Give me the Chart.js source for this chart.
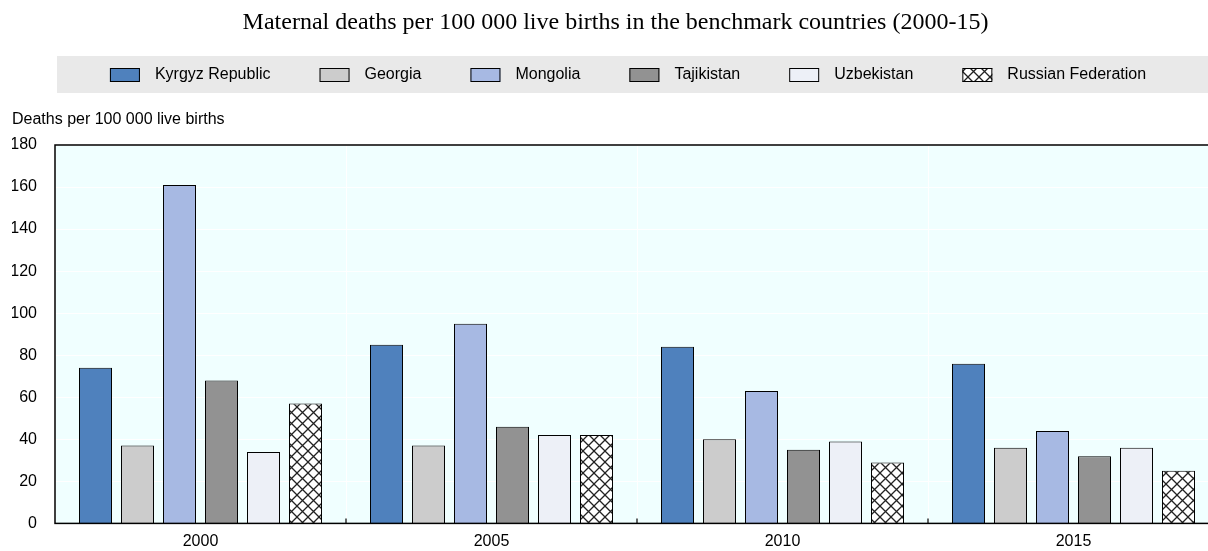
<!DOCTYPE html>
<html>
<head>
<meta charset="utf-8">
<script src="https://cdn.jsdelivr.net/npm/chart.js@4.4.0/dist/chart.umd.min.js"></script>
<style>
html, body { margin: 0; padding: 0; background: #fff; overflow: hidden; }
#wrap { width: 1208px; height: 551px; overflow: hidden; }
</style>
</head>
<body>
<div id="wrap"><canvas id="chart" width="1219" height="551"></canvas></div>
<script>
// data
const years = ['2000', '2005', '2010', '2015'];
const kyrgyz = [74, 85, 84, 76];
const georgia = [37, 37, 40, 36];
const mongolia = [161, 95, 63, 44];
const tajikistan = [68, 46, 35, 32];
const uzbekistan = [34, 42, 39, 36];
const russia = [57, 42, 29, 25];
const countryNames = ['Kyrgyz Republic', 'Georgia', 'Mongolia', 'Tajikistan', 'Uzbekistan', 'Russian Federation'];
const yMin = 0, yMax = 180, yStep = 20;

// crosshatch fill for Russia
function hatch() {
    const c = document.createElement('canvas');
    c.width = 11; c.height = 11;
    const g = c.getContext('2d');
    g.fillStyle = '#fff';
    g.fillRect(0, 0, 11, 11);
    g.strokeStyle = '#222';
    g.lineWidth = 1.3;
    g.beginPath();
    g.moveTo(0, 0); g.lineTo(11, 11);
    g.moveTo(11, 0); g.lineTo(0, 11);
    g.stroke();
    return g.createPattern(c, 'repeat');
}
const hatchFill = hatch();

const fills = ['#4F81BD', '#CCCCCC', '#A7B9E3', '#929292', '#EDF0F7', hatchFill];
const series = [kyrgyz, georgia, mongolia, tajikistan, uzbekistan, russia];

Chart.defaults.font.family = '"Liberation Sans", Arial, sans-serif';
Chart.defaults.color = '#000';

// plot background
const plotBg = {
    id: 'plotBg',
    beforeDraw(chart) {
        const a = chart.chartArea, ctx = chart.ctx;
        ctx.save();
        ctx.fillStyle = '#F0FFFF';
        ctx.fillRect(a.left, a.top, a.right - a.left, a.bottom - a.top);
        ctx.restore();
    }
};

// frame + small inner ticks between year groups
const frame = {
    id: 'frame',
    afterDatasetsDraw(chart) {
        const a = chart.chartArea, ctx = chart.ctx, xs = chart.scales.x;
        ctx.save();
        ctx.strokeStyle = '#000';
        ctx.lineWidth = 1.5;
        ctx.strokeRect(a.left, a.top, a.right - a.left, a.bottom - a.top);
        ctx.lineWidth = 1.2;
        ctx.beginPath();
        for (let i = 1; i < years.length; i++) {
            const x = (xs.getPixelForTick(i - 1) + xs.getPixelForTick(i)) / 2;
            ctx.moveTo(x, a.bottom);
            ctx.lineTo(x, a.bottom - 5);
        }
        ctx.stroke();
        ctx.restore();
    }
};

// legend on a grey band
const legendBand = {
    id: 'legendBand',
    afterDraw(chart) {
        const ctx = chart.ctx;
        ctx.save();
        ctx.fillStyle = '#E9E9E9';
        ctx.fillRect(57, 56, chart.width - 57, 37);
        ctx.font = '16px "Liberation Sans", Arial, sans-serif';
        ctx.textBaseline = 'middle';
        const boxW = 30, boxH = 14, gapText = 15, gapItem = 49, cy = 75;
        const items = chart.data.datasets.map(ds => ({
            label: ds.label, fill: ds.backgroundColor, w: ctx.measureText(ds.label).width
        }));
        const total = items.reduce((s, it) => s + boxW + gapText + it.w, 0) + gapItem * (items.length - 1);
        let x = 628 - total / 2;
        items.forEach(it => {
            ctx.fillStyle = it.fill;
            ctx.fillRect(x, cy - boxH / 2, boxW, boxH);
            ctx.strokeStyle = '#000';
            ctx.lineWidth = 1;
            ctx.strokeRect(x + 0.5, cy - boxH / 2 + 0.5, boxW - 1, boxH - 1);
            ctx.fillStyle = '#000';
            ctx.fillText(it.label, x + boxW + gapText, cy);
            x += boxW + gapText + it.w + gapItem;
        });
        ctx.restore();
    }
};

new Chart('chart', {
    type: 'bar',
    data: {
        labels: years,
        datasets: countryNames.map((name, i) => ({
            label: name,
            data: series[i],
            backgroundColor: fills[i],
            borderColor: '#000',
            borderWidth: 1,
            categoryPercentage: 0.866,
            barPercentage: 0.786
        }))
    },
    options: {
        responsive: false,
        animation: false,
        layout: { padding: { left: 12, right: 0, top: 0, bottom: 0 } },
        plugins: {
            legend: { display: false },
            tooltip: { enabled: false },
            title: {
                display: true,
                text: 'Maternal deaths per 100 000 live births in the benchmark countries (2000-15)',
                font: { family: '"Liberation Serif", "Times New Roman", serif', size: 24, weight: 'normal' },
                color: '#000',
                padding: { top: 8, bottom: 63 }
            },
            subtitle: {
                display: true,
                text: 'Deaths per 100 000 live births',
                align: 'start',
                font: { size: 16 },
                color: '#000',
                padding: { top: 10, bottom: 16 }
            }
        },
        scales: {
            x: {
                grid: { offset: true, color: '#fff', lineWidth: 1, drawTicks: false },
                border: { display: false },
                ticks: { font: { size: 16 }, color: '#000', padding: 9 },
                afterFit(s) { s.height = 23; }
            },
            y: {
                min: yMin,
                max: yMax,
                grid: { color: '#fff', lineWidth: 1, drawTicks: false },
                border: { display: false },
                ticks: { stepSize: yStep, font: { size: 16 }, color: '#000', padding: 18 },
                afterFit(s) { s.width = 43; }
            }
        }
    },
    plugins: [plotBg, frame, legendBand]
});
</script>
</body>
</html>
